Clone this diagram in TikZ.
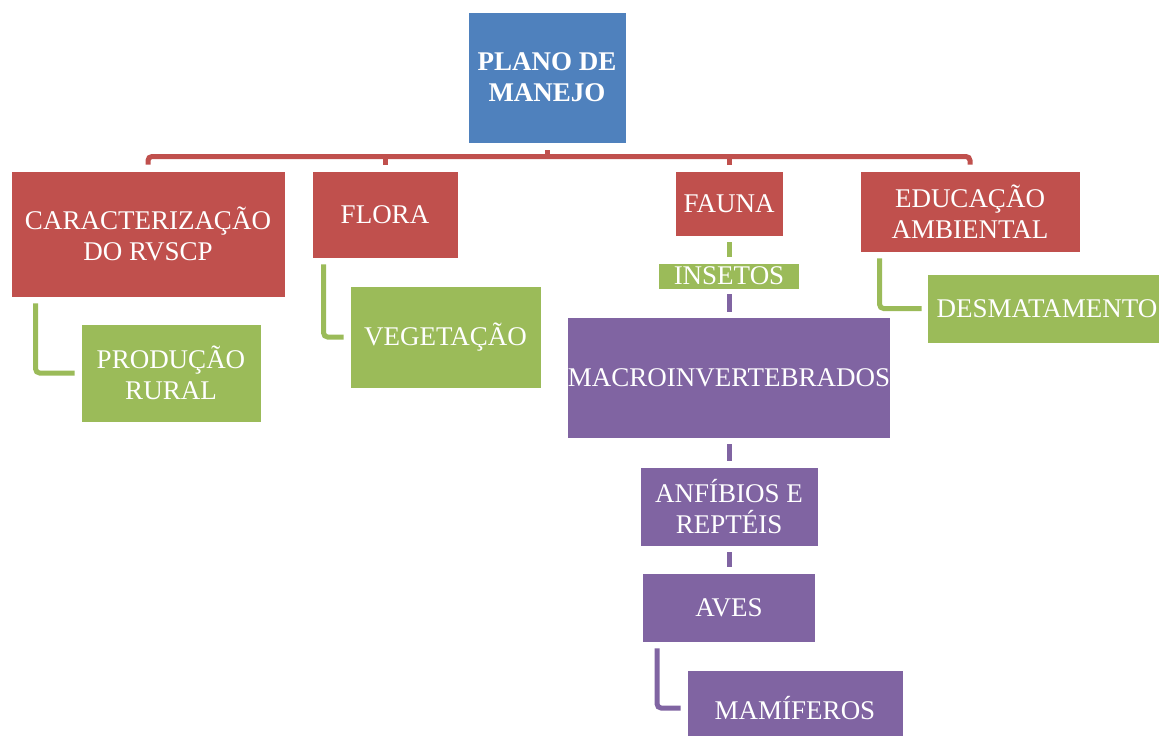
\documentclass[tikz,border=0pt]{standalone}
\usepackage{fontspec}
\setmainfont{Liberation Serif}
\definecolor{azul}{HTML}{4F81BD}
\definecolor{vermelho}{HTML}{C0504D}
\definecolor{verde}{HTML}{9BBB59}
\definecolor{roxo}{HTML}{8064A2}

\begin{document}
\begin{tikzpicture}[x=1pt,y=-1pt,
    caixa/.style={draw=white, line width=0.8pt, text=white, inner sep=0pt, align=center,
                  font=\fontsize{27}{31}\selectfont},
    ligacao/.style={line width=5pt, rounded corners=4pt}]
    \path[use as bounding box] (0,0) rectangle (1159,736);
    \clip (0,0) rectangle (1159,736);

    % topo
    \node[caixa, fill=azul, minimum width=158pt, minimum height=131pt,
          font=\fontsize{27}{31}\selectfont\bfseries] (plano) at (547,77.5) {PLANO DE\\MANEJO};

    % primeiro nivel
    \node[caixa, fill=vermelho, minimum width=274pt, minimum height=126pt] (cara) at (148,234) {CARACTERIZAÇÃO\\DO RVSCP};
    \node[caixa, fill=vermelho, minimum width=146pt, minimum height=87pt] (flora) at (385,214.5) {FLORA};
    \node[caixa, fill=vermelho, minimum width=108pt, minimum height=65pt] (fauna) at (729,203.5) {FAUNA};
    \node[caixa, fill=vermelho, minimum width=220pt, minimum height=81pt] (educ) at (970,211.5) {EDUCAÇÃO\\AMBIENTAL};

    % segundo nivel
    \node[caixa, fill=verde, minimum width=180pt, minimum height=98pt] (prod) at (171,373) {PRODUÇÃO\\RURAL};
    \node[caixa, fill=verde, minimum width=191pt, minimum height=102pt] (veg) at (445.5,337) {VEGETAÇÃO};
    \node[caixa, fill=verde, minimum width=141pt, minimum height=26pt] (insetos) at (729,276) {INSETOS};
    \node[caixa, fill=verde, minimum width=240pt, minimum height=69pt] (desm) at (1047,308.5) {DESMATAMENTO};

    % fauna
    \node[caixa, fill=roxo, minimum width=321pt, minimum height=121pt] (macro) at (729,377.5) {MACROINVERTEBRADOS};
    \node[caixa, fill=roxo, minimum width=178pt, minimum height=79pt] (anfib) at (729,506.5) {ANFÍBIOS E\\REPTÉIS};
    \node[caixa, fill=roxo, minimum width=173pt, minimum height=69pt] (aves) at (729,607.5) {AVES};
    \node[caixa, fill=roxo, minimum width=216pt, minimum height=76pt] (mamif) at (795,708) {MAMÍFEROS};

    % barra vermelha
    \coordinate (barra) at (547,156.5);
    \draw[ligacao, vermelho] ([yshift=-7pt]plano.south) -- (barra);
    \draw[ligacao, vermelho] ([yshift=6pt]cara.north) |- (barra) -| ([yshift=6pt]educ.north);
    \draw[ligacao, vermelho] ([yshift=6pt]flora.north) -- (flora.north |- barra);
    \draw[ligacao, vermelho] ([yshift=6pt]fauna.north) -- (fauna.north |- barra);

    % ligacoes em L
    \draw[ligacao, verde] ([xshift=25pt,yshift=-6pt]cara.south west) |- ([xshift=-6pt]prod.west);
    \draw[ligacao, verde] ([xshift=12pt,yshift=-6pt]flora.south west) |- ([xshift=-6pt]veg.west);
    \draw[ligacao, verde] ([xshift=20pt,yshift=-6pt]educ.south west) |- ([xshift=-5pt]desm.west);
    \draw[ligacao, roxo] ([xshift=15pt,yshift=-6pt]aves.south west) |- ([xshift=-6pt]mamif.west);

    % coluna da fauna
    \draw[ligacao, verde] ([yshift=-6pt]fauna.south) -- ([yshift=6pt]insetos.north);
    \draw[ligacao, roxo] ([yshift=-5pt]insetos.south) -- ([yshift=5pt]macro.north);
    \draw[ligacao, roxo] ([yshift=-6pt]macro.south) -- ([yshift=6pt]anfib.north);
    \draw[ligacao, roxo] ([yshift=-6pt]anfib.south) -- ([yshift=6pt]aves.north);
\end{tikzpicture}
\end{document}
